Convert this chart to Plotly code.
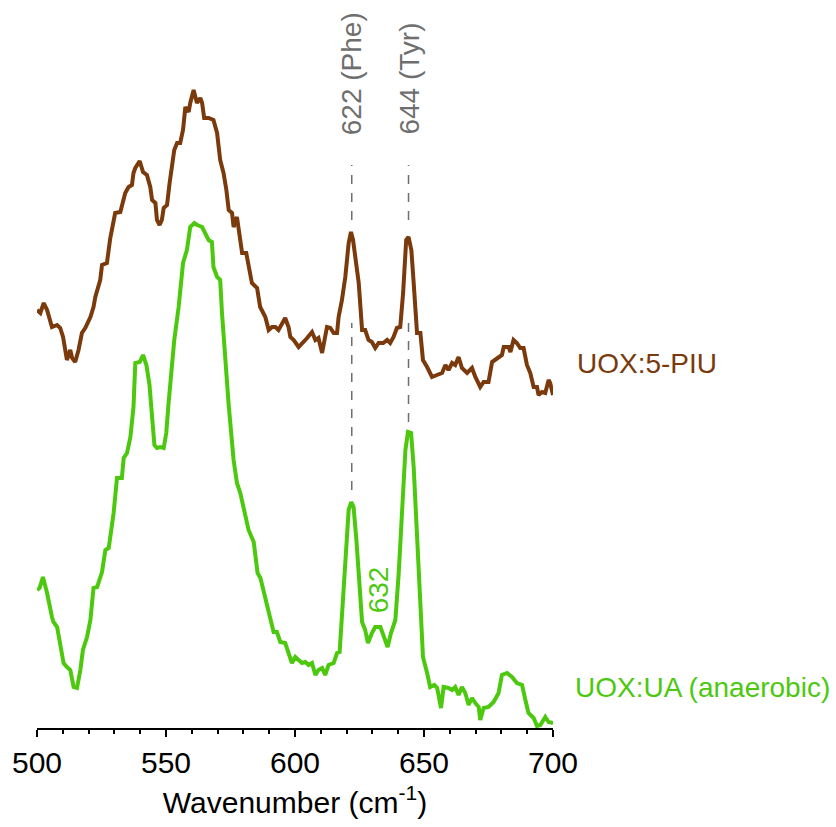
import plotly.graph_objects as go

# UOX:5-PIU (brown) spectrum
wn_piu = [500.0, 501.3, 502.6, 503.9, 505.8, 507.8, 509.0, 510.1, 511.6, 512.9, 513.6, 514.8, 516.1, 517.4,
          518.7, 520.7, 521.9, 522.6, 524.5, 525.2, 527.1, 527.8, 528.4, 530.3, 532.3, 534.2, 535.5, 536.8,
          537.4, 538.1, 539.8, 541.1, 542.6, 543.9, 544.6, 545.9, 546.5, 547.5, 548.4, 549.1, 550.4, 551.4,
          552.3, 553.2, 554.3, 555.5, 556.6, 557.5, 558.8, 559.4, 560.7, 562.0, 563.3, 564.0, 564.8, 566.5,
          568.4, 569.8, 571.0, 572.3, 573.4, 574.3, 575.6, 576.2, 577.5, 578.8, 579.5, 581.1, 582.7, 583.3,
          585.3, 586.5, 588.5, 589.8, 591.1, 592.4, 593.6, 596.2, 597.5, 598.2, 599.5, 600.8, 601.4, 604.7,
          606.6, 607.9, 609.1, 610.5, 612.4, 613.7, 615.0, 616.3, 616.9, 618.2, 619.5, 620.8, 621.7, 622.5,
          623.8, 624.7, 626.0, 627.2, 628.5, 629.8, 631.1, 632.4, 634.2, 635.7, 636.9, 638.2, 639.5, 640.8,
          641.9, 643.1, 644.0, 645.1, 646.0, 647.3, 648.6, 649.6, 651.2, 653.1, 655.0, 657.0, 658.3, 659.5,
          660.9, 662.1, 663.4, 664.7, 666.7, 668.6, 669.9, 671.8, 673.1, 675.0, 676.4, 678.3, 680.2, 680.9,
          682.8, 683.5, 684.7, 686.0, 687.3, 688.6, 689.9, 691.2, 692.5, 693.8, 694.4, 695.7, 697.0, 698.3,
          698.9, 700.0]
int_piu = [418, 415, 425, 418, 401, 403, 400, 391, 368, 378, 370, 366, 378, 395,
           400, 411, 421, 431, 448, 463, 465, 478, 490, 515, 516, 535, 541, 543,
           555, 560, 567, 556, 553, 541, 528, 525, 508, 503, 508, 520, 523, 545,
           565, 578, 585, 585, 598, 621, 616, 625, 638, 625, 630, 625, 610, 610,
           608, 595, 568, 555, 538, 518, 515, 501, 511, 488, 475, 475, 455, 445,
           440, 421, 411, 398, 401, 401, 398, 410, 401, 391, 388, 383, 381, 390,
           396, 388, 390, 375, 401, 400, 395, 395, 411, 428, 451, 485, 496, 488,
           465, 445, 398, 398, 388, 386, 380, 385, 385, 388, 385, 391, 400, 401,
           435, 488, 491, 478, 445, 395, 395, 368, 361, 351, 353, 355, 363, 358,
           365, 363, 371, 360, 355, 360, 351, 341, 346, 346, 366, 370, 373, 381,
           381, 376, 388, 385, 380, 380, 363, 355, 341, 341, 333, 336, 335, 348,
           345, 333]

# UOX:UA (anaerobic) (green) spectrum
wn_ua = [500.0, 501.0, 502.3, 503.9, 505.8, 506.4, 507.8, 509.0, 510.3, 511.6, 512.9, 514.2, 515.5, 516.8,
         517.8, 519.4, 520.7, 521.9, 523.3, 525.2, 526.5, 527.8, 529.7, 531.0, 532.9, 533.6, 534.9, 536.2,
         537.4, 538.1, 539.8, 541.1, 542.4, 543.6, 544.6, 545.5, 546.5, 547.8, 549.1, 550.1, 551.0, 552.3,
         553.2, 554.9, 556.6, 558.1, 559.4, 561.0, 562.1, 564.0, 565.2, 566.5, 567.8, 568.4, 569.8, 571.0,
         571.7, 573.0, 574.3, 576.2, 577.5, 578.8, 580.1, 582.0, 584.0, 585.5, 586.6, 588.5, 590.2, 591.7,
         593.0, 594.3, 596.2, 597.5, 598.8, 600.1, 601.4, 602.7, 604.0, 605.3, 606.6, 607.9, 609.1, 610.5,
         611.7, 613.0, 615.0, 616.3, 617.3, 618.2, 619.5, 620.8, 621.8, 622.7, 623.8, 625.0, 626.0, 627.2,
         628.3, 629.8, 631.1, 633.1, 634.4, 635.9, 637.2, 638.9, 640.2, 641.5, 642.8, 643.8, 645.0, 646.0,
         647.3, 648.6, 649.6, 651.2, 652.4, 654.0, 655.1, 656.6, 657.6, 659.5, 660.9, 662.1, 663.4, 664.7,
         666.0, 667.3, 668.6, 669.9, 671.2, 671.8, 673.1, 675.0, 677.0, 678.9, 680.2, 682.2, 684.1, 686.0,
         688.0, 689.3, 690.5, 692.5, 693.8, 695.1, 697.0, 698.3, 699.6, 700.0]
int_ua = [138, 140, 151, 135, 111, 106, 101, 86, 65, 61, 58, 41, 40, 58,
          78, 91, 108, 140, 141, 156, 178, 180, 215, 250, 250, 270, 275, 291,
          321, 365, 366, 373, 363, 343, 315, 283, 280, 281, 280, 295, 325, 365,
          388, 421, 465, 478, 501, 505, 503, 501, 495, 488, 486, 461, 451, 448,
          415, 361, 323, 268, 245, 235, 218, 198, 186, 155, 150, 131, 113, 96,
          96, 86, 85, 75, 65, 71, 68, 65, 66, 63, 65, 53, 58, 60,
          53, 63, 65, 75, 76, 111, 171, 218, 226, 221, 188, 141, 106, 98,
          85, 95, 101, 101, 91, 81, 95, 108, 155, 218, 278, 296, 295, 261,
          195, 128, 71, 55, 41, 43, 40, 20, 41, 40, 38, 41, 33, 41,
          35, 23, 30, 25, 21, 8, 20, 21, 26, 35, 53, 55, 51, 45,
          43, 28, 15, 10, 2, 3, 11, 6, 6, 5]

peak_pos = [622, 644]
peak_labels = ["622 (Phe)", "644 (Tyr)"]
series_names = ["UOX:5-PIU", "UOX:UA (anaerobic)"]
tick_vals = [500, 550, 600, 650, 700]

BROWN = "#7B3A0C"
GREEN = "#4CC90F"
GREY = "#6E6E6E"
FONT = "Liberation Sans, Arial, sans-serif"

fig = go.Figure()
fig.add_trace(go.Scatter(x=wn_piu, y=int_piu, mode="lines", line=dict(color=BROWN, width=4),
                         name=series_names[0], showlegend=False))
fig.add_trace(go.Scatter(x=wn_ua, y=int_ua, mode="lines", line=dict(color=GREEN, width=4),
                         name=series_names[1], showlegend=False))

# dashed guide lines
upper_seg = (508, 563)
lower_seg = {622: (238, 405), 644: (306, 405)}
for p in peak_pos:
    fig.add_shape(type="line", xref="x", yref="y", x0=p, x1=p, y0=upper_seg[0], y1=upper_seg[1],
                  line=dict(color=GREY, width=1.5, dash="dash"))
    fig.add_shape(type="line", xref="x", yref="y", x0=p, x1=p, y0=lower_seg[p][0], y1=lower_seg[p][1],
                  line=dict(color=GREY, width=1.5, dash="dash"))

for p, lab in zip(peak_pos, peak_labels):
    fig.add_annotation(x=p, y=591, xref="x", yref="y", text=lab, textangle=-90, showarrow=False,
                       xanchor="center", yanchor="bottom", font=dict(family=FONT, size=28, color=GREY))

fig.add_annotation(x=632.3, y=138, xref="x", yref="y", text="632", textangle=-90, showarrow=False,
                   xanchor="center", yanchor="middle", font=dict(family=FONT, size=28, color=GREEN))

fig.add_annotation(x=1.0426, y=365, xref="paper", yref="y", text=series_names[0], showarrow=False,
                   xanchor="left", yanchor="middle", font=dict(family=FONT, size=28, color=BROWN))
fig.add_annotation(x=1.0388, y=41, xref="paper", yref="y", text=series_names[1], showarrow=False,
                   xanchor="left", yanchor="middle", font=dict(family=FONT, size=28, color=GREEN))

fig.update_layout(
    width=836, height=827,
    margin=dict(l=37, r=283, t=0, b=99),
    paper_bgcolor="white", plot_bgcolor="white",
    font=dict(family=FONT, color="black"),
    xaxis=dict(range=[500, 700], tickvals=tick_vals, ticks="outside", ticklen=7, tickwidth=2,
               tickcolor="black", showline=True, linecolor="black", linewidth=2, showgrid=False,
               zeroline=False, tickfont=dict(size=30, family=FONT, color="black"),
               minor=dict(dtick=10, ticks="outside", ticklen=4, tickwidth=2, tickcolor="black"),
               title=dict(text="Wavenumber (cm<sup>-1</sup>)", font=dict(size=30, family=FONT, color="black"),
                          standoff=14)),
    yaxis=dict(range=[0, 728], visible=False, showgrid=False, zeroline=False),
)

fig.write_html("out.html")
